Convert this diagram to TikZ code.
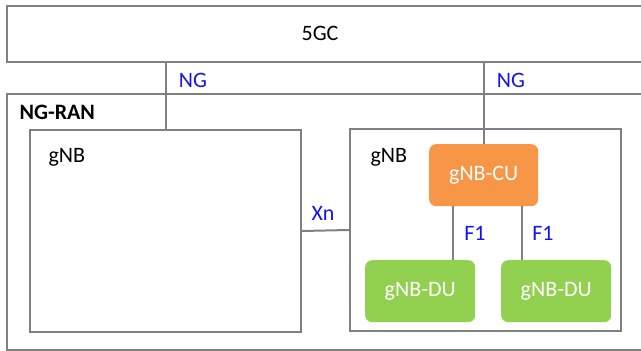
\documentclass[tikz,border=0pt]{standalone}
\usepackage{fontspec}
\setmainfont{Carlito}
\usetikzlibrary{calc,positioning}
\definecolor{linegray}{RGB}{128,128,128}
\definecolor{cuorange}{RGB}{247,150,70}
\definecolor{dugreen}{RGB}{146,208,80}
\definecolor{ifblue}{RGB}{20,20,235}
\tikzset{
  wire/.style={linegray,line width=2pt},
  frame/.style={draw=linegray,line width=2pt,fill=white,anchor=north west,inner sep=0pt},
  unit/.style={anchor=north west,rounded corners=7pt,inner sep=0pt,text=white,
               minimum width=110pt,minimum height=62pt,font=\fontsize{22}{26}\selectfont},
  cu/.style={unit,fill=cuorange,minimum width=109pt},
  du/.style={unit,fill=dugreen},
  iflab/.style={text=ifblue,font=\fontsize{22}{26}\selectfont},
  lab/.style={font=\fontsize{22}{26}\selectfont},
}
\begin{document}
\begin{tikzpicture}[x=1pt,y=-1pt]
  \path[use as bounding box,fill=white] (0,0) rectangle (641,351);

  \node[frame,minimum width=640pt,minimum height=56pt] (core) at (6,5) {};
  \node[lab] (coretext) at (320,33) {5GC};
  \node[frame,minimum width=640pt,minimum height=256pt] (ran) at (6,93) {};
  \node[lab,font=\fontsize{22}{26}\selectfont\bfseries,anchor=west] (rantext) at (16,112) {NG-RAN};

  \node[frame,minimum width=271pt,minimum height=202pt] (gnbA) at (29,129) {};
  \node[lab,anchor=west] (gnbAtext) at (45,157) {gNB};
  \node[frame,minimum width=271pt,minimum height=202pt] (gnbB) at (349,128) {};
  \node[lab,anchor=west] (gnbBtext) at (367,157) {gNB};

  \node[cu] (gnbcu) at (429,144) {gNB-CU};
  \node[du] (gnbduA) at (365,260) {gNB-DU};
  \node[du] (gnbduB) at (501,260) {gNB-DU};

  \draw[wire] (gnbA.north) -- (gnbA.north |- core.south);
  \draw[wire] (gnbcu.north) -- (gnbcu.north |- core.south);
  \draw[wire] (gnbA.east) -- (gnbB.west);
  \draw[wire] ([xshift=24pt]gnbcu.south west) -- ([xshift=24pt]gnbcu.south west |- gnbduA.north);
  \draw[wire] ([xshift=-16pt]gnbcu.south east) -- ([xshift=-16pt]gnbcu.south east |- gnbduB.north);

  \node[iflab] (ngA) at (193,80) {NG};
  \node[iflab] (ngB) at (511,80) {NG};
  \node[iflab] (xn) at (323,213) {Xn};
  \node[iflab] (fA) at (475,233) {F1};
  \node[iflab] (fB) at (543,233) {F1};
\end{tikzpicture}
\end{document}
